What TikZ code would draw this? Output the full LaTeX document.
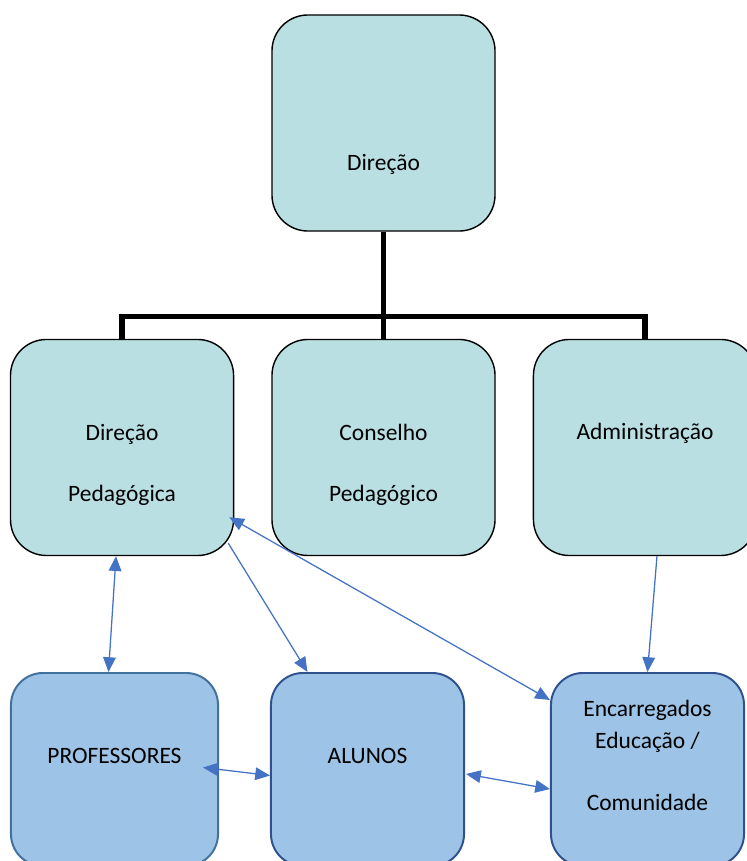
\documentclass[tikz,border=0pt]{standalone}
\usepackage{fontspec}
\setmainfont{Carlito}
\usepackage{xcolor}
\usepackage{tikz}
\usetikzlibrary{positioning,arrows.meta,calc}

\definecolor{tealfill}{RGB}{185,223,227}
\definecolor{bluefill}{RGB}{157,195,230}
\definecolor{profline}{RGB}{65,113,156}
\definecolor{darkline}{RGB}{47,82,143}
\definecolor{linkblue}{RGB}{68,114,196}

\begin{document}
\begin{tikzpicture}[
    x=0.025cm, y=-0.025cm,
    box/.style={
        draw,
        rectangle,
        inner sep=0pt,
        align=center,
        font=\fontsize{16.7pt}{22.8pt}\selectfont
    },
    topbox/.style={
        box,
        fill=tealfill,
        line width=1pt,
        rounded corners=0.9cm,
        minimum width=5.575cm,
        minimum height=5.4cm
    },
    lowbox/.style={
        box,
        fill=bluefill,
        draw=darkline,
        line width=1.4pt,
        rounded corners=0.8cm,
        minimum width=4.825cm,
        minimum height=4.825cm
    },
    tree/.style={line width=3.8pt},
    link/.style={draw=linkblue, line width=0.9pt, >={Triangle[length=10.5pt,width=9pt]}}
]
\useasboundingbox (0,0) rectangle (747,861);

% top level
\node[topbox, text height=66.9pt, text depth=0pt] (dir) at (383.5,123) {Direção};

% second level
\node[topbox, text height=76.8pt, text depth=0pt, below=2.675cm of dir] (cons) {Conselho\\[20.6pt]Pedagógico};
\node[topbox, text height=76.8pt, text depth=0pt, left=0.925cm of cons] (dirped) {Direção\\[20.6pt]Pedagógica};
\node[topbox, text height=0pt, text depth=11.4pt, right=0.925cm of cons] (admin) {Administração};

% third level
\node[lowbox, draw=profline, minimum width=5.175cm, text height=0pt, text depth=9.2pt] (prof) at (114.5,769.5) {PROFESSORES};
\node[lowbox, text height=0pt, text depth=9.2pt] (alunos) at (367.5,769.5) {ALUNOS};
\node[lowbox, text height=57.6pt, text depth=0pt] (enc) at (647.5,769.5) {Encarregados\\Educação /\\[20.6pt]Comunidade};

% organigram lines
\draw[tree] (dir.south) -- (cons.north);
\draw[tree] (dirped.north) -- ++(0,-22) -| (admin.north);

% relations
\draw[<->, link] ($(dirped.south)+(-6,0)$) -- ($(prof.north)+(-6,0)$);
\draw[->, link] ($(dirped.south east)+(-6,-13)$) -- ($(alunos.north)+(-60,0)$);
\draw[<->, link] ($(dirped.south east)+(-5,-39)$) -- ($(enc.north west)+(0,28)$);
\draw[->, link] ($(admin.south)+(12,0)$) -- (enc.north);
\draw[<->, link] ($(prof.east)+(-16,-2)$) -- ($(alunos.west)+(0,6)$);
\draw[<->, link] ($(alunos.east)+(1,4.5)$) -- ($(enc.west)+(0,19.5)$);

\end{tikzpicture}
\end{document}
